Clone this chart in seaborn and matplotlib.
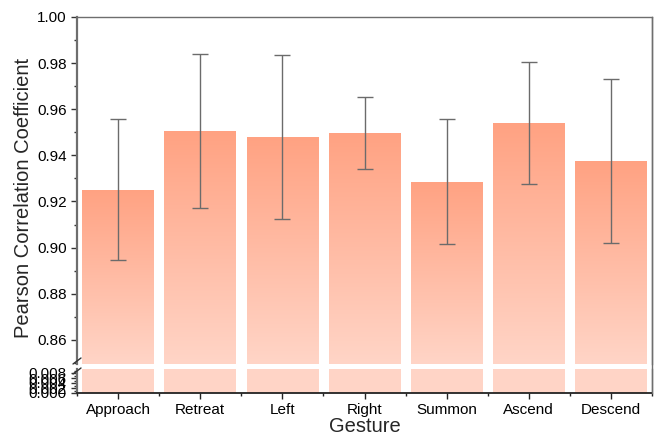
import numpy as np
import pandas as pd
import matplotlib
matplotlib.use("Agg")
import matplotlib.pyplot as plt
import seaborn as sns
from matplotlib.colors import LinearSegmentedColormap
from matplotlib.lines import Line2D

gestures = ["Approach", "Retreat", "Left", "Right", "Summon", "Ascend", "Descend"]
means = [0.925, 0.9505, 0.948, 0.9495, 0.9285, 0.954, 0.9375]
errs = [0.0306, 0.0335, 0.0357, 0.0156, 0.0271, 0.0265, 0.0355]
upper_ticks = [0.86, 0.88, 0.90, 0.92, 0.94, 0.96, 0.98, 1.00]
lower_ticks = [0.000, 0.002, 0.004, 0.006, 0.008]

sns.set_style("white")
plt.rcParams['font.family'] = ['Liberation Sans', 'DejaVu Sans']

df = pd.DataFrame({"Gesture": gestures, "r": means})

fig = plt.figure(figsize=(6.57, 4.37), dpi=100)
L, R = 77/657, 652/657
ax_top = fig.add_axes([L, 1-364/437, R-L, (364-17)/437])
ax_bot = fig.add_axes([L, 1-393/437, R-L, (393-369)/437])

top_c = (1.0, 0.635, 0.51)
bot_c = (1.0, 0.835, 0.78)
cmap = LinearSegmentedColormap.from_list("g", [bot_c, top_c])

for ax in (ax_top, ax_bot):
    sns.barplot(data=df, x="Gesture", y="r", ax=ax, width=0.87, errorbar=None,
                color=top_c, saturation=1)

ax_top.set_ylim(0.8495, 1.0)
ax_bot.set_ylim(0, 0.0096)
for ax in (ax_top, ax_bot):
    ax.set_xlim(-0.5, 6.5)

# gradient fills
for ax, grad in ((ax_top, True), (ax_bot, False)):
    y0 = ax.get_ylim()[0]
    for p in ax.patches:
        x = p.get_x(); w = p.get_width(); h = p.get_height()
        top = min(h, ax.get_ylim()[1])
        if grad:
            img = np.linspace(0, 1, 256).reshape(-1, 1)
            im = ax.imshow(img, cmap=cmap, origin="lower", aspect="auto",
                           extent=[x, x + w, y0, top], zorder=1)
        else:
            img = np.zeros((2, 1))
            im = ax.imshow(img, cmap=cmap, vmin=0, vmax=1, origin="lower", aspect="auto",
                           extent=[x, x + w, y0, ax.get_ylim()[1]], zorder=1)
        im.set_clip_path(p)
        p.set_facecolor("none")
        p.set_edgecolor("none")
    ax.set_xlim(-0.5, 6.5)

ax_top.set_ylim(0.8495, 1.0)
ax_bot.set_ylim(0, 0.0096)

ax_top.errorbar(range(len(gestures)), means, yerr=errs, fmt="none", ecolor="#6b6b6b",
                elinewidth=1.0, capsize=6, capthick=1.0, zorder=3)

# axis styling
spine_c = "#6e6e6e"
for ax in (ax_top, ax_bot):
    for s in ax.spines.values():
        s.set_color(spine_c)
        s.set_linewidth(1.0)
    ax.spines['left'].set_linewidth(1.6)
ax_top.spines['bottom'].set_visible(False)
ax_bot.spines['top'].set_visible(False)
ax_bot.spines['bottom'].set_color("#222222")
ax_bot.spines['bottom'].set_linewidth(1.3)

ax_top.set_yticks(upper_ticks)
ax_top.set_yticklabels([f"{t:.2f}" for t in upper_ticks])
ax_top.set_yticks(np.arange(0.85, 1.0, 0.02), minor=True)
ax_top.tick_params(axis="y", which="major", direction="out", length=4, width=1,
                   colors="#333333", labelcolor="black", labelsize=11, left=True)
ax_top.tick_params(axis="y", which="minor", direction="out", length=2.5, width=1,
                   colors="#333333", left=True)
ax_top.tick_params(axis="x", bottom=False, labelbottom=False)
ax_top.set_xlabel("")
ax_top.set_ylabel("")

ax_bot.set_yticks(lower_ticks)
ax_bot.set_yticklabels([f"{t:.3f}" for t in lower_ticks])
ax_bot.set_yticks(np.arange(0.001, 0.0096, 0.002), minor=True)
ax_bot.tick_params(axis="y", which="major", direction="out", length=4, width=1,
                   colors="#333333", labelcolor="black", labelsize=11, left=True)
ax_bot.tick_params(axis="y", which="minor", direction="out", length=2.5, width=1,
                   colors="#333333", left=True)
ax_bot.set_ylabel("")
ax_bot.set_xticks(range(len(gestures)))
ax_bot.set_xticklabels(gestures)
ax_bot.set_xticks(np.arange(-0.5, 6.6, 1.0), minor=True)
ax_bot.tick_params(axis="x", which="major", direction="out", length=4, width=1,
                   colors="#222222", labelcolor="black", labelsize=11, bottom=True)
ax_bot.tick_params(axis="x", which="minor", direction="out", length=2.5, width=1,
                   colors="#222222", bottom=True)
ax_bot.set_xlabel("Gesture", fontsize=14.5, labelpad=0)

fig.text(24/657, 1-198/437, "Pearson Correlation Coefficient", rotation=90,
         ha="center", va="center", fontsize=14.5)

# right spine continuous through the break
fig.add_artist(Line2D([R, R], [1-393/437, 1-17/437], transform=fig.transFigure,
                      color=spine_c, lw=1.0))
# break marks on left spine
for yb in (361, 371):
    fig.add_artist(Line2D([(L*657-4)/657, (L*657+4)/657],
                          [1-(yb+3)/437, 1-(yb-3)/437], transform=fig.transFigure,
                          color="#333333", lw=1.0))

fig.savefig("out.png", dpi=100)
